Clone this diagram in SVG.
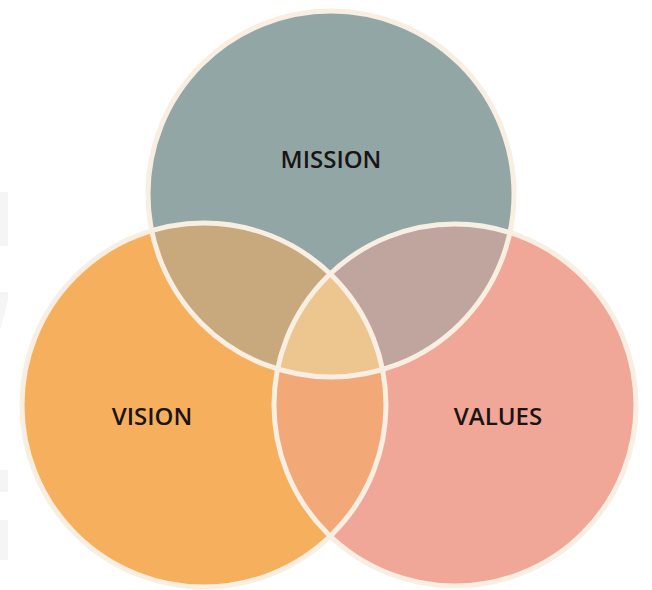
<svg xmlns="http://www.w3.org/2000/svg" width="652" height="590" viewBox="0 0 652 590">
  <style>
    .lbl { font-family: "Open Sans", "Liberation Sans", sans-serif; font-weight: 600; font-size: 24px; fill: #1a1414; text-anchor: middle; dominant-baseline: central; }
    .ring { fill: none; stroke: #f8eee2; stroke-width: 5; }
    .wm { fill: #f5f5f5; }
  </style>
  <defs>
    <clipPath id="cM"><circle cx="331" cy="194" r="183"/></clipPath>
    <clipPath id="cVi"><circle cx="204" cy="405" r="182"/></clipPath>
    <clipPath id="cVa"><circle cx="455" cy="405" r="181"/></clipPath>
  </defs>
  <rect width="652" height="590" fill="#ffffff"/>
  <g id="watermark">
    <rect class="wm" x="0" y="192" width="8" height="54"/>
    <polygon class="wm" points="0,292 8,292 8,300 0,330"/>
    <rect class="wm" x="0" y="470" width="8" height="22"/>
    <rect class="wm" x="0" y="520" width="8" height="40"/>
  </g>
  <g id="mission">
    <circle cx="331" cy="194" r="183" fill="#93a6a6"/>
    <text class="lbl" x="331" y="158">MISSION</text>
  </g>
  <g id="vision">
    <circle cx="204" cy="405" r="182" fill="#f6b05d"/>
    <text class="lbl" x="152" y="415">VISION</text>
  </g>
  <g id="values">
    <circle cx="455" cy="405" r="181" fill="#f0a797"/>
    <text class="lbl" x="498" y="415">VALUES</text>
  </g>
  <g id="overlaps">
    <g clip-path="url(#cM)">
      <circle cx="204" cy="405" r="182" fill="#c7a97d"/>
      <circle cx="455" cy="405" r="181" fill="#bfa59d"/>
    </g>
    <g clip-path="url(#cVi)">
      <circle cx="455" cy="405" r="181" fill="#f3a977"/>
    </g>
    <g clip-path="url(#cVi)">
      <g clip-path="url(#cVa)">
        <circle cx="331" cy="194" r="183" fill="#ecc58f"/>
      </g>
    </g>
  </g>
  <g id="connectors">
    <circle class="ring" cx="331" cy="194" r="183"/>
    <circle class="ring" cx="204" cy="405" r="182"/>
    <circle class="ring" cx="455" cy="405" r="181"/>
  </g>
</svg>
